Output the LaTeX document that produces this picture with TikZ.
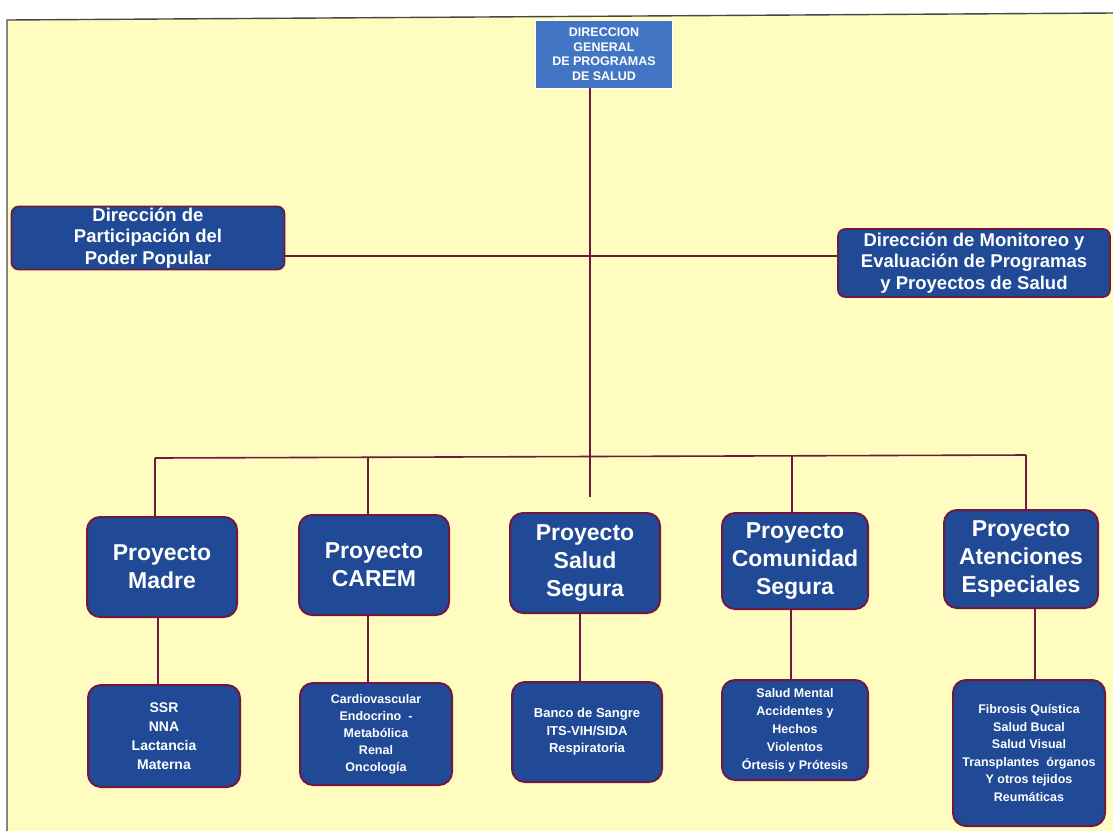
\documentclass[tikz,border=0pt]{standalone}
\usepackage{fontspec}
\setmainfont{Liberation Sans}
\definecolor{bg}{RGB}{255,252,192}
\definecolor{boxblue}{RGB}{32,74,150}
\definecolor{topblue}{RGB}{66,118,196}
\definecolor{maroon}{RGB}{112,24,64}
\definecolor{frame}{RGB}{70,70,70}
\tikzset{
  conn/.style={draw=maroon, line width=1.6pt},
  topbox/.style={fill=topblue, draw=white, line width=0.6pt, text=white, font=\bfseries\fontsize{12.5}{14.5}\selectfont, align=center, inner sep=0pt},
  dirbox/.style={fill=boxblue, draw=maroon, line width=1.6pt, rounded corners=7pt, text=white, font=\bfseries\fontsize{18.5}{21.5}\selectfont, align=center, inner sep=0pt},
  projbox/.style={fill=boxblue, draw=maroon, line width=2pt, rounded corners=13pt, text=white, font=\bfseries\fontsize{23}{28}\selectfont, align=center, inner sep=0pt},
  subbox/.style={fill=boxblue, draw=maroon, line width=2pt, rounded corners=13pt, text=white, font=\bfseries\fontsize{13}{17.5}\selectfont, align=center, inner sep=0pt},
}
\begin{document}
\begin{tikzpicture}[x=1pt,y=-1pt]
\useasboundingbox (0,0) rectangle (1113,831);
\fill[white] (0,0) rectangle (1113,831);
% frame
\fill[bg] (7,20) -- (1113,13) -- (1113,831) -- (7,831) -- cycle;
\draw[frame, line width=1.4pt] (7,831) -- (7,20) -- (1113,13);

% top
\node[topbox, minimum width=137pt, minimum height=68pt] (dg) at (604,54)
  {DIRECCION\\GENERAL\\DE PROGRAMAS\\DE SALUD};

% side directions
\node[dirbox, minimum width=273pt, minimum height=63pt] (dpp) at (148,238)
  {Dirección de\\Participación del\\Poder Popular};
\node[dirbox, minimum width=272pt, minimum height=68pt] (dme) at (974,263)
  {Dirección de Monitoreo y\\Evaluación de Programas\\y Proyectos de Salud};

% projects
\node[projbox, minimum width=150pt, minimum height=100pt] (p1) at (162,567) {Proyecto\\Madre};
\node[projbox, minimum width=150pt, minimum height=100pt] (p2) at (374,565) {Proyecto\\CAREM};
\node[projbox, minimum width=150pt, minimum height=100pt] (p3) at (585,563) {Proyecto\\Salud\\Segura};
\node[projbox, minimum width=146pt, minimum height=96pt] (p4) at (795,561) {Proyecto\\Comunidad\\Segura};
\node[projbox, minimum width=154pt, minimum height=98pt] (p5) at (1021,559) {Proyecto\\Atenciones\\Especiales};

% sub boxes
\node[subbox, minimum width=152pt, minimum height=102pt, font=\bfseries\fontsize{14}{19}\selectfont] (s1) at (164,736) {SSR\\NNA\\Lactancia\\Materna};
\node[subbox, minimum width=152pt, minimum height=102pt, font=\bfseries\fontsize{12.5}{17}\selectfont] (s2) at (376,734)
  {Cardiovascular\\Endocrino \;-\\Metabólica\\Renal\\Oncología};
\node[subbox, minimum width=150pt, minimum height=100pt] (s3) at (587,732)
  {Banco de Sangre\\ITS-VIH/SIDA\\Respiratoria};
\node[subbox, minimum width=146pt, minimum height=100pt, font=\bfseries\fontsize{12.5}{18}\selectfont] (s4) at (795,730)
  {Salud Mental\\Accidentes y\\Hechos\\Violentos\\Órtesis y Prótesis};
\node[subbox, minimum width=152pt, minimum height=146pt, font=\bfseries\fontsize{12.5}{17.5}\selectfont] (s5) at (1029,753)
  {Fibrosis Quística\\Salud Bucal\\Salud Visual\\Transplantes \;órganos\\Y otros tejidos\\Reumáticas};

% coordinates
\coordinate (mainend) at (590,497);
\coordinate (mainx) at (590,88);
\coordinate (cross) at (590,256);
\coordinate (busL) at (155,458);
\coordinate (busR) at (1026,455);
\coordinate (b2) at (368,457);
\coordinate (b4) at (792,456);

% connectors
\draw[conn] (mainx) -- (mainend);
\draw[conn] (dpp.east |- cross) -- (dme.west |- cross);
\draw[conn] (busL) -- (busR);
\draw[conn] (busL) -- (busL |- p1.north);
\draw[conn] (b2) -- (b2 |- p2.north);
\draw[conn] (b4) -- (b4 |- p4.north);
\draw[conn] (busR) -- (busR |- p5.north);
\coordinate (l1) at (158,0);
\coordinate (l2) at (368,0);
\coordinate (l3) at (580,0);
\coordinate (l4) at (791,0);
\coordinate (l5) at (1035,0);
\draw[conn] (l1 |- p1.south) -- (l1 |- s1.north);
\draw[conn] (l2 |- p2.south) -- (l2 |- s2.north);
\draw[conn] (l3 |- p3.south) -- (l3 |- s3.north);
\draw[conn] (l4 |- p4.south) -- (l4 |- s4.north);
\draw[conn] (l5 |- p5.south) -- (l5 |- s5.north);
\end{tikzpicture}
\end{document}
